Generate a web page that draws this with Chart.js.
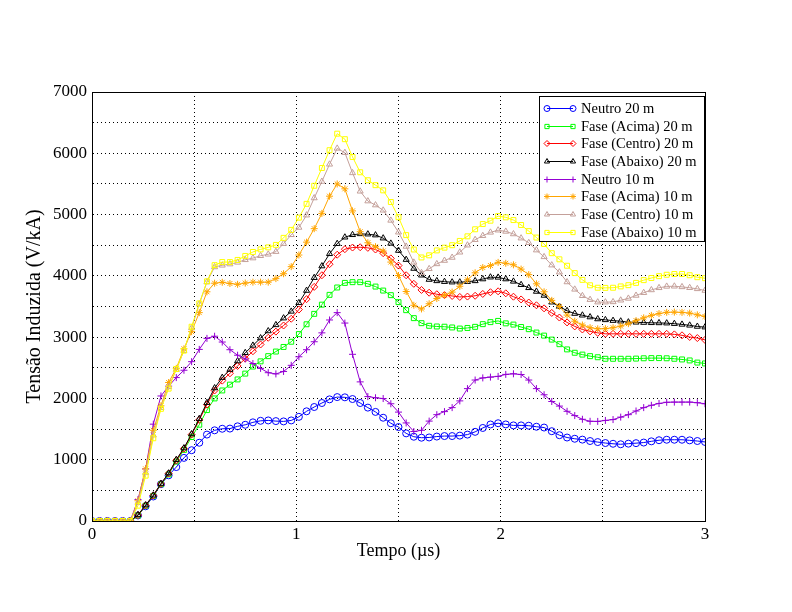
<!DOCTYPE html>
<html>
<head>
<meta charset="utf-8">
<script src="https://cdn.jsdelivr.net/npm/chart.js@4"></script>
<style>
  html, body { margin: 0; padding: 0; background: #fff; }
  #wrap { width: 792px; height: 612px; }
</style>
</head>
<body>
<div id="wrap"><canvas id="grafico" width="792" height="612"></canvas></div>
<script>
// Tempo (µs): amostras a cada 0.0375 µs, de 0 a 3
const tempo = Array.from({ length: 81 }, (_, i) => +(i * 0.0375).toFixed(4));

// Tensão induzida (V/kA)
const neutro20 = [
  0,0,0,0,0,0,90,240,400,600,
  745,880,1030,1155,1277,1410,1480,1505,1508,1545,
  1570,1610,1635,1641,1630,1625,1641,1700,1790,1860,
  1925,1985,2022,2018,1990,1925,1850,1780,1685,1595,
  1533,1430,1375,1359,1363,1378,1386,1386,1393,1410,
  1455,1518,1575,1595,1576,1560,1560,1555,1538,1525,
  1465,1400,1362,1342,1328,1305,1288,1272,1260,1252,
  1262,1270,1280,1300,1318,1326,1326,1326,1316,1305,
  1290];
const faseAcima20 = [
  0,0,0,0,0,0,90,250,410,600,
  760,970,1160,1370,1571,1810,2000,2130,2225,2310,
  2405,2520,2605,2690,2765,2840,2925,3050,3210,3380,
  3530,3690,3810,3885,3897,3897,3870,3825,3760,3685,
  3571,3440,3310,3228,3185,3174,3170,3158,3140,3150,
  3168,3212,3245,3265,3225,3205,3165,3130,3075,3025,
  2960,2885,2800,2745,2715,2690,2672,2647,2647,2647,
  2647,2650,2655,2658,2658,2655,2647,2636,2620,2585,
  2571];
const faseCentro20 = [
  0,0,0,0,0,0,95,255,415,605,
  775,990,1180,1410,1650,1900,2130,2290,2410,2530,
  2650,2770,2880,2990,3090,3190,3300,3450,3620,3820,
  4010,4190,4345,4435,4462,4467,4457,4430,4370,4285,
  4168,4010,3870,3770,3725,3700,3685,3672,3656,3662,
  3675,3705,3733,3748,3715,3660,3615,3565,3520,3470,
  3395,3320,3240,3175,3125,3094,3070,3054,3054,3054,
  3054,3054,3054,3054,3054,3054,3045,3030,3003,2985,
  2955];
const faseAbaixo20 = [
  0,0,0,0,0,0,100,260,420,610,
  780,1000,1190,1420,1669,1930,2170,2340,2470,2610,
  2745,2865,2985,3100,3200,3310,3420,3560,3760,3970,
  4160,4360,4525,4630,4670,4685,4680,4665,4615,4530,
  4413,4265,4120,4010,3940,3918,3905,3897,3897,3905,
  3918,3948,3978,3975,3948,3910,3855,3805,3745,3680,
  3570,3500,3430,3385,3357,3328,3296,3282,3270,3260,
  3245,3242,3238,3234,3232,3228,3220,3208,3193,3174,
  3163];
const neutro10 = [
  0,0,0,0,0,0,350,850,1580,2040,
  2200,2340,2460,2600,2800,2980,3015,2920,2795,2705,
  2645,2570,2490,2420,2400,2440,2540,2680,2795,2925,
  3070,3280,3400,3230,2720,2270,2030,2011,1998,1913,
  1777,1600,1460,1480,1630,1735,1785,1850,1960,2160,
  2300,2335,2348,2360,2392,2402,2390,2300,2160,2060,
  1950,1875,1790,1720,1660,1627,1625,1641,1655,1695,
  1735,1795,1850,1888,1918,1937,1940,1940,1940,1930,
  1913];
const faseAcima10 = [
  0,0,0,0,0,0,330,850,1480,1880,
  2260,2490,2810,3090,3400,3740,3880,3895,3875,3862,
  3882,3897,3897,3897,3955,4035,4150,4340,4550,4770,
  5020,5300,5500,5420,5060,4720,4540,4475,4405,4225,
  4005,3745,3520,3460,3545,3630,3685,3735,3830,3935,
  4050,4136,4168,4220,4205,4180,4110,4020,3870,3740,
  3600,3500,3360,3260,3198,3155,3136,3138,3154,3180,
  3220,3270,3315,3355,3385,3405,3408,3404,3392,3364,
  3337];
const faseCentro10 = [
  0,0,0,0,0,0,300,790,1400,1850,
  2190,2470,2780,3150,3540,3900,4145,4172,4192,4220,
  4262,4290,4328,4352,4395,4525,4670,4790,4990,5270,
  5540,5820,6080,6010,5680,5380,5220,5155,5070,4905,
  4712,4480,4220,4050,4115,4195,4250,4300,4385,4500,
  4590,4655,4710,4745,4725,4683,4615,4540,4420,4310,
  4175,4060,3900,3780,3675,3612,3571,3571,3575,3602,
  3632,3680,3725,3770,3805,3828,3830,3820,3806,3788,
  3761];
const faseAbaixo10 = [
  0,0,0,0,0,0,250,740,1350,1830,
  2160,2480,2780,3170,3550,3910,4175,4225,4225,4260,
  4325,4390,4432,4465,4505,4620,4750,4950,5175,5470,
  5760,6050,6320,6230,5940,5690,5560,5480,5395,5205,
  4957,4665,4430,4300,4335,4415,4460,4500,4570,4645,
  4760,4845,4900,4975,4955,4910,4830,4730,4625,4520,
  4370,4270,4165,4045,3935,3846,3806,3804,3806,3828,
  3848,3885,3930,3965,3995,4018,4030,4030,4010,3978,
  3962];

const nomesSeries = [
  'Neutro 20 m', 'Fase (Acima) 20 m', 'Fase (Centro) 20 m', 'Fase (Abaixo) 20 m',
  'Neutro 10 m', 'Fase (Acima) 10 m', 'Fase (Centro) 10 m', 'Fase (Abaixo) 10 m'
];
const valoresSeries = [neutro20, faseAcima20, faseCentro20, faseAbaixo20,
                       neutro10, faseAcima10, faseCentro10, faseAbaixo10];
const cores = ['#0000ff', '#00ff00', '#ff0000', '#000000',
               '#9400d3', '#ffa500', '#c4a09a', '#ffff00'];
const marcadores = ['circle', 'rect', 'rectRot', 'triangle',
                    'cross', 'star', 'triangle', 'rect'];

const fonteSerif = 'Liberation Serif';

const datasets = valoresSeries.map((valores, i) => ({
  label: nomesSeries[i],
  data: valores.map((v, k) => ({ x: tempo[k], y: v })),
  borderColor: cores[i],
  backgroundColor: cores[i],
  borderWidth: 1,
  pointStyle: marcadores[i],
  pointRadius: 3.5,
  pointBorderWidth: 1,
  pointBorderColor: cores[i],
  pointBackgroundColor: 'rgba(0,0,0,0)',
  tension: 0,
  order: valoresSeries.length - i
}));

// Moldura do gráfico e legenda dentro da área
const molduraELegenda = {
  id: 'molduraELegenda',
  afterDraw(chart) {
    const ctx = chart.ctx;
    const a = chart.chartArea;
    ctx.save();
    ctx.strokeStyle = '#000';
    ctx.lineWidth = 1;
    ctx.setLineDash([]);
    ctx.strokeRect(a.left + 0.5, a.top + 0.5, a.right - a.left, a.bottom - a.top);

    // legenda
    const bx = 539, by = 96, bw = 165, bh = 145;
    ctx.fillStyle = '#fff';
    ctx.fillRect(bx, by, bw, bh);
    ctx.strokeRect(bx + 0.5, by + 0.5, bw, bh);
    ctx.font = '14.5px "' + fonteSerif + '"';
    ctx.textBaseline = 'middle';
    chart.data.datasets.forEach((ds, i) => {
      const y = Math.round(by + 12 + i * 17.67) + 0.5;
      ctx.strokeStyle = ds.borderColor;
      ctx.beginPath();
      ctx.moveTo(547, y);
      ctx.lineTo(573, y);
      ctx.stroke();
      ctx.fillStyle = 'rgba(0,0,0,0)';
      [547, 573].forEach(x => {
        Chart.helpers.drawPoint(ctx, {
          pointStyle: ds.pointStyle, radius: 3, rotation: 0, borderWidth: 1
        }, x, y);
      });
      ctx.fillStyle = '#000';
      ctx.fillText(ds.label, 581, y + 1);
    });
    ctx.restore();
  }
};

const ctx = document.getElementById('grafico').getContext('2d');
new Chart(ctx, {
  type: 'line',
  data: { datasets },
  options: {
    responsive: false,
    animation: false,
    layout: { padding: { left: 0, top: 92, right: 87, bottom: 0 } },
    plugins: {
      legend: { display: false },
      tooltip: { enabled: false }
    },
    scales: {
      x: {
        type: 'linear',
        min: 0, max: 3,
        afterFit: s => { s.height = 91; },
        border: { display: true, color: '#000', dash: [1, 3] },
        grid: { color: '#000', drawTicks: false, lineWidth: 1 },
        ticks: {
          stepSize: 0.5, padding: 3, color: '#000', maxRotation: 0,
          font: { family: fonteSerif, size: 17 },
          callback: v => Number.isInteger(v) ? String(v) : ''
        },
        title: {
          display: true, text: 'Tempo (µs)', color: '#000',
          font: { family: fonteSerif, size: 18 },
          padding: { top: 0, bottom: 50 }
        }
      },
      y: {
        min: 0, max: 7000,
        afterFit: s => { s.width = 92; },
        border: { display: true, color: '#000', dash: [1, 3] },
        grid: { color: '#000', drawTicks: false, lineWidth: 1 },
        ticks: {
          stepSize: 500, padding: 5, color: '#000',
          font: { family: fonteSerif, size: 17 },
          callback: v => v % 1000 === 0 ? String(v) : ''
        },
        title: {
          display: true, text: 'Tensão Induzida (V/kA)', color: '#000',
          font: { family: fonteSerif, size: 20 },
          padding: { top: 23, bottom: 0 }
        }
      }
    }
  },
  plugins: [molduraELegenda]
});
</script>
</body>
</html>
